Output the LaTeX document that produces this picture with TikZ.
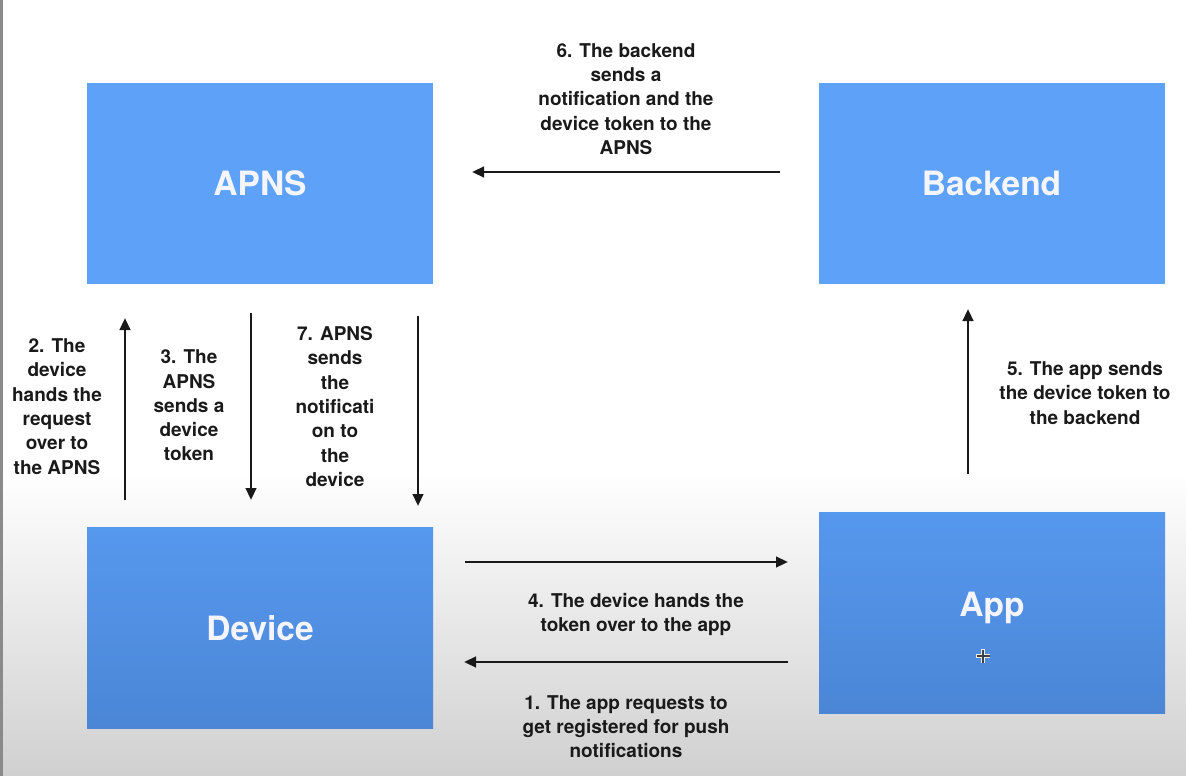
\documentclass[tikz,border=0pt]{standalone}
\usepackage{fontspec}
\setmainfont{TeX Gyre Heros}
\usetikzlibrary{arrows.meta}
\definecolor{boxtop}{HTML}{5DA2F8}
\definecolor{boxmid}{HTML}{5698EE}
\definecolor{boxbot}{HTML}{4B86D6}
\definecolor{bgbot}{HTML}{D0D0D0}
\definecolor{edge}{HTML}{8A8A8A}
\definecolor{lbl}{HTML}{1A1A1A}
\tikzset{
  box/.style={rectangle, inner sep=0pt, minimum width=346pt, minimum height=201pt,
    text=white!96!blue, font=\fontsize{33.5}{38}\selectfont\bfseries},
  upperbox/.style={box, fill=boxtop},
  lowerbox/.style={box, top color=boxmid, bottom color=boxbot},
  note/.style={align=center, inner sep=0pt, text=lbl, font=\fontsize{19}{24.3}\selectfont\bfseries},
  flow/.style={line width=2.6pt, draw=black!90, -{Triangle[length=12pt,width=10.5pt]}}
}
\begin{document}
\begin{tikzpicture}[x=1pt,y=-1pt]
\useasboundingbox (0,0) rectangle (1186,776);
\fill[white] (0,0) rectangle (1186,470);
\shade[top color=white, bottom color=bgbot] (0,470) rectangle (1186,776);
\fill[edge] (0,0) rectangle (2.5,776);

% boxes
\node[upperbox] (apns) at (260,183.5) {APNS};
\node[upperbox] (backend) at (991.5,183.5) {Backend};
\node[lowerbox] (device) at (260,628) {Device};
\node[lowerbox] (app) at (992,612.5) {\raisebox{16pt}{App}};

% arrow end points
\coordinate (a6s) at (780,172);  \coordinate (a6e) at (472,172);
\coordinate (a2s) at (125,500);  \coordinate (a2e) at (125,318);
\coordinate (a3s) at (251,313);  \coordinate (a3e) at (251,500);
\coordinate (a7s) at (418,316);  \coordinate (a7e) at (418,506);
\coordinate (a5s) at (968,474);  \coordinate (a5e) at (968,309);
\coordinate (a4s) at (465,562);  \coordinate (a4e) at (788,562);
\coordinate (a1s) at (788,662);  \coordinate (a1e) at (464,662);

\draw[flow] (a6s) -- (a6e);
\draw[flow] (a2s) -- (a2e);
\draw[flow] (a3s) -- (a3e);
\draw[flow] (a7s) -- (a7e);
\draw[flow] (a5s) -- (a5e);
\draw[flow] (a4s) -- (a4e);
\draw[flow] (a1s) -- (a1e);

% labels
\node[note] (l6) at (626,99) {6. The backend\\sends a\\notification and the\\device token to the\\APNS};
\node[note] (l2) at (57,406.5) {2. The\\device\\hands the\\request\\over to\\the APNS};
\node[note] (l3) at (189,405.5) {3. The\\APNS\\sends a\\device\\token};
\node[note] (l7) at (335,406.5) {7. APNS\\sends\\the\\notificati\\on to\\the\\device};
\node[note] (l5) at (1085,393) {5. The app sends\\the device token to\\the backend};
\node[note] (l4) at (636,614.5) {4. The device hands the\\token over to the app};
\node[note] (l1) at (626,726.5) {1. The app requests to\\get registered for push\\notifications};

% cursor
\draw[line width=3.2pt, white!85!gray] (976,656) -- (990,656) (983,649) -- (983,663);
\draw[line width=1.1pt, black!75] (976.5,656) -- (989.5,656) (983,649.5) -- (983,662.5);
\end{tikzpicture}
\end{document}
